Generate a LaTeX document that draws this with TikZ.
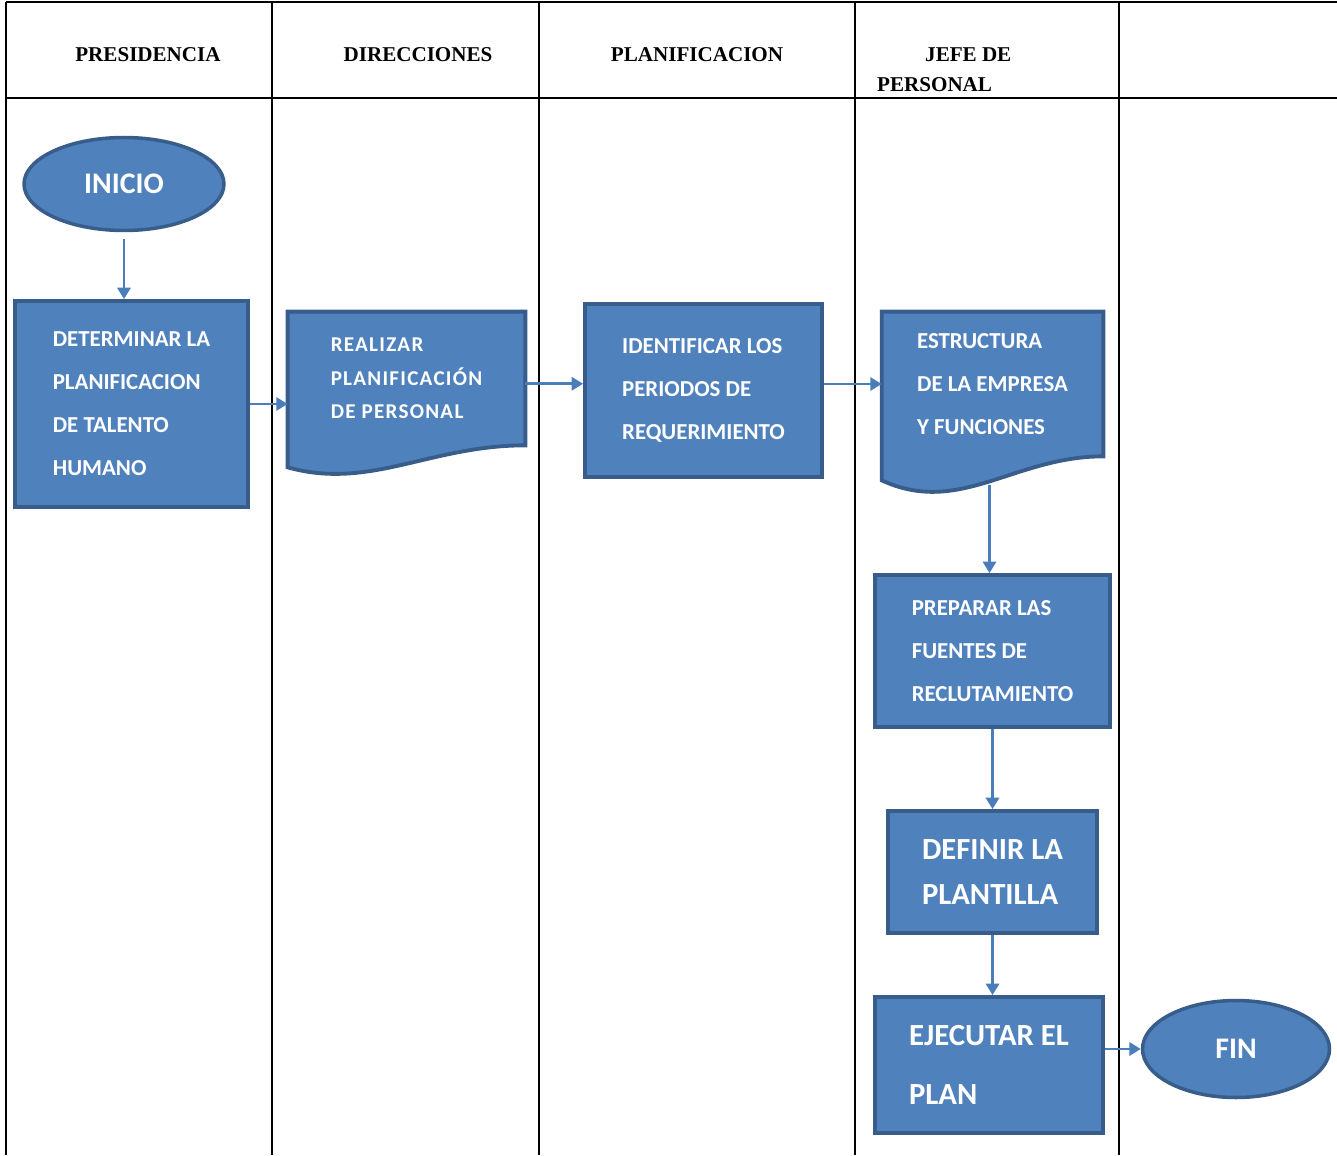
\documentclass[tikz,border=0pt]{standalone}
\usepackage{fontspec}
\setmainfont{Liberation Serif}
\newfontfamily\boxfont{Carlito}
\newfontfamily\docfont[LetterSpace=6]{Carlito}
\usepackage{xcolor}
\usepackage{tikz}
\usetikzlibrary{arrows.meta,calc,positioning,shapes.geometric,backgrounds}
\definecolor{fblue}{HTML}{4F81BD}
\definecolor{fedge}{HTML}{385D8A}
\definecolor{fline}{HTML}{4A7EBB}
\tikzset{
  >={Triangle[length=6.5pt,width=7.5pt]},
  lane/.style={black, line width=1.6pt},
  lanehead/.style={font=\bfseries\fontsize{12}{17}\selectfont},
  flowbox/.style={rectangle, draw=fedge, fill=fblue, line width=2.2pt, text=white,
                  align=left, inner sep=0pt, font=\boxfont\bfseries\fontsize{13}{24.5}\selectfont},
  flowbig/.style={flowbox, font=\boxfont\bfseries\fontsize{17.5}{26}\selectfont},
  flowend/.style={ellipse, draw=fedge, fill=fblue, line width=2pt, text=white,
                  inner sep=0pt, font=\boxfont\bfseries\fontsize{17}{20}\selectfont},
  flowdoc/.style={rectangle, text=white, align=left, inner sep=0pt,
                  font=\boxfont\bfseries\fontsize{13}{24.5}\selectfont},
  docshape/.style={draw=fedge, fill=fblue, line width=2.2pt},
  flowarrow/.style={->, fline, line width=1.5pt},
}

\begin{document}
\begin{tikzpicture}[x=0.02cm,y=-0.02cm]
  \useasboundingbox (0,0) rectangle (1337,1155);

  % ---- carriles ----
  \draw[lane] (6,2) -- (1337,2);
  \draw[lane] (6,98) -- (1337,98);
  \foreach \lx in {6,272,539,855,1119}
    \draw[lane] (\lx,2) -- (\lx,1155);

  \node[lanehead] (presihead) at (148,55) {PRESIDENCIA};
  \node[lanehead] (direchead) at (418,55) {DIRECCIONES};
  \node[lanehead] (planhead) at (697,55) {PLANIFICACION};
  \node[lanehead, align=left, anchor=west] (jefehead) at (871,70)
    {\hspace*{0.96cm}JEFE DE\\PERSONAL};

  % ---- pasos ----
  \node[flowend, minimum width=4cm, minimum height=1.86cm] (inicio) at (124,184) {INICIO};
  \node[flowbox, minimum width=4.66cm, minimum height=4.12cm] (determinar) at (131.5,404)
    {DETERMINAR LA\\PLANIFICACION\\DE TALENTO\\HUMANO};
  \node[flowdoc, minimum width=4.74cm, minimum height=2.66cm,
        font=\docfont\bfseries\fontsize{12}{19}\selectfont] (realizar) at (406.5,378.5)
    {REALIZAR\\PLANIFICACIÓN\\DE PERSONAL};
  \node[flowbox, minimum width=4.74cm, minimum height=3.46cm] (identificar) at (703.5,390.5)
    {IDENTIFICAR LOS\\PERIODOS DE\\REQUERIMIENTO};
  \node[flowdoc, minimum width=4.42cm, minimum height=2.88cm] (estructura) at (992.5,384)
    {ESTRUCTURA\\DE LA EMPRESA\\Y FUNCIONES};
  \node[flowbox, minimum width=4.7cm, minimum height=3.04cm] (preparar) at (992.5,651)
    {PREPARAR LAS\\FUENTES DE\\RECLUTAMIENTO};
  \node[flowbig, minimum width=4.18cm, minimum height=2.44cm] (definir) at (992.5,872)
    {DEFINIR LA\\PLANTILLA};
  \node[flowbig, minimum width=4.56cm, minimum height=2.72cm,
        font=\boxfont\bfseries\fontsize{17.5}{34}\selectfont] (ejecutar) at (989,1065)
    {EJECUTAR EL\\PLAN};
  \node[flowend, minimum width=3.74cm, minimum height=1.94cm] (fin) at (1236,1049) {FIN};

  % documentos
  \begin{scope}[on background layer]
    \draw[docshape] (realizar.north west) -- (realizar.north east) -- (realizar.south east)
      .. controls ($(realizar.south west)+(142,0)$) and ($(realizar.south west)+(82,45)$)
      .. ($(realizar.south west)+(0,22)$) -- cycle;
    \draw[docshape] (estructura.north west) -- (estructura.north east) -- (estructura.south east)
      .. controls ($(estructura.south west)+(132,0)$) and ($(estructura.south west)+(78,60)$)
      .. ($(estructura.south west)+(0,24)$) -- cycle;
  \end{scope}
  \coordinate (estrbottom) at ($(estructura.south)+(-3,29)$);

  % ---- flechas ----
  \draw[flowarrow, shorten <=4pt] (inicio.south) -- (inicio.south |- determinar.north);
  \draw[flowarrow] (determinar.east) -- (determinar.east -| realizar.west);
  \draw[flowarrow] ([yshift=-3pt]realizar.east) -- ([yshift=-3pt]realizar.east -| identificar.west);
  \draw[flowarrow] (estructura.west -| identificar.east) -- (estructura.west);
  \draw[flowarrow] (estrbottom) -- (estrbottom |- preparar.north);
  \draw[flowarrow] (preparar) -- (definir);
  \draw[flowarrow] (definir.south) -- (definir.south |- ejecutar.north);
  \draw[flowarrow] (fin.west -| ejecutar.east) -- (fin.west);

\end{tikzpicture}
\end{document}
